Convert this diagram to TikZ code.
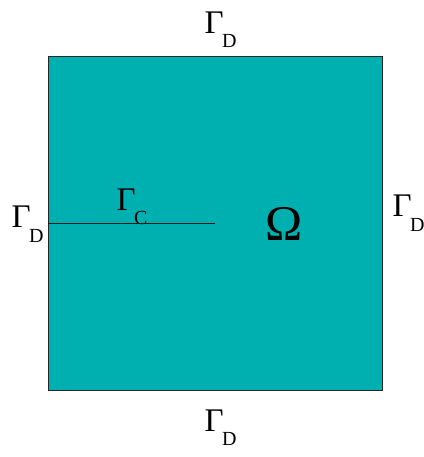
\documentclass[tikz,border=0pt]{standalone}
\usepackage{fontspec}
\setmainfont{Liberation Serif}
\usetikzlibrary{backgrounds, positioning}

\definecolor{domain}{RGB}{0,176,176}
\newcommand{\bnd}[1]{Γ\kern-1.5bp\raisebox{-14bp}{\fontsize{20bp}{20bp}\selectfont #1}}

\begin{document}
\begin{tikzpicture}[
            x = 1bp,
            y = -1bp,
            line width = 1bp
        ]

        \tikzstyle{every node}=[
            inner sep = 0pt,
            anchor = base west,
            font = \fontsize{33bp}{38bp}\selectfont
        ]

        \useasboundingbox (0,0) rectangle (423,457);

        \node[draw=black!85, fill=domain, anchor=center,
              minimum width=333bp, minimum height=333bp] (omega) at (215.5,223.5) {};
        \coordinate (tip) at (215,223.5);

        \node (top) at (204,34) {\bnd{D}};
        \node (bottom) at (204,431) {\bnd{D}};
        \node (left) at (11,228) {\bnd{D}};
        \node (right) at (392,217) {\bnd{D}};
        \node (crack) at (116,211) {\bnd{C}};
        \node[font=\fontsize{50bp}{54bp}\selectfont] (om) at (265,240) {Ω};

        \path[draw=black!90] (omega.west) -- (tip);

    \end{tikzpicture}
\end{document}
